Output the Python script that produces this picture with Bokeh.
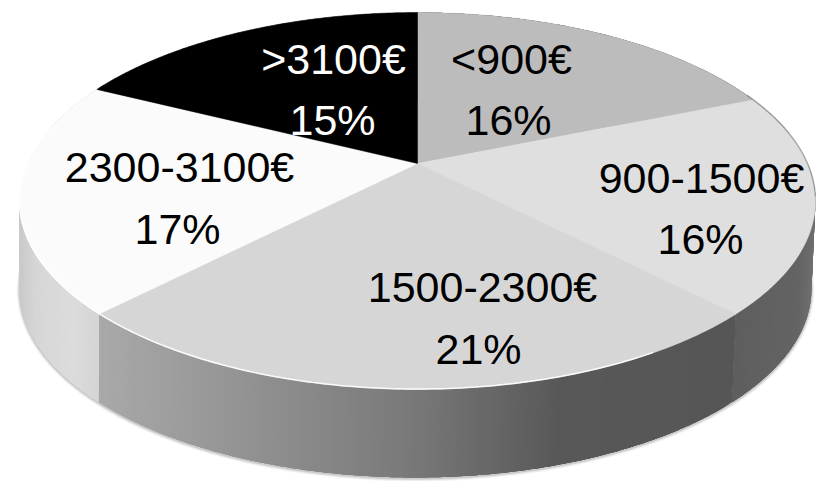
import numpy as np
from bokeh.plotting import figure
from bokeh.models import Range1d
from bokeh.core.properties import value
from bokeh.embed import file_html
from bokeh.resources import INLINE

# data
categories = ["<900€", "900-1500€", "1500-2300€", "2300-3100€", ">3100€"]
percents = [16, 16, 21, 17, 15]

# style
top_colors = ["#bcbcbc", "#dfdfdf", "#d6d6d6", "#fbfbfb", "#000000"]
text_colors = ["#000000", "#000000", "#000000", "#000000", "#ffffff"]
side_stops = [
    ([400, 820], [0x70, 0x70]),
    ([690, 800, 815], [0x5a, 0x64, 0x70]),
    ([98, 410, 560, 735], [0xa9, 0x79, 0x58, 0x56]),
    ([15, 35, 70, 105], [0xc6, 0xd6, 0xdc, 0xd3]),
    ([0, 100], [0xc6, 0xc6]),
]
label_xy = [(511, 58, 508, 119), (701, 177, 700, 238), (482, 286, 478, 348),
            (179, 166, 177, 228), (333, 58, 332, 119)]

W, H = 819, 481
HUB_TOP = (417.0, 163.0)
HUB_BOT = (415.0, 251.0)
A, B, K = 181.0, 390.0, 0.199
B2 = 388.0


def project(theta, hub, b):
    d = 1 + K * np.cos(theta)
    return hub[0] + b * np.sin(theta) / d, hub[1] - A * np.cos(theta) / d


fractions = np.cumsum([0] + percents) / sum(percents)
angles = 2 * np.pi * fractions

p = figure(width=W, height=H, output_backend="svg", toolbar_location=None,
           x_range=Range1d(0, W), y_range=Range1d(H, 0),
           min_border=0, outline_line_color=None, tools="")
p.axis.visible = False
p.grid.visible = False

# soft shadow round the lower edge
t = np.linspace(np.radians(62), np.radians(298), 300)
bx, by = project(t, HUB_BOT, B2)
for w, a in [(6, 0.06), (4, 0.10), (2, 0.18)]:
    p.line(bx, by + 1, line_color="#555555", line_width=w, line_alpha=a)

# side wall: overlapping strips, each painted over the previous one's tail
step = np.radians(0.5)
for i in range(len(percents)):
    n = max(2, int((angles[i + 1] - angles[i]) / step))
    ts = np.linspace(angles[i], angles[i + 1], n + 1)
    xs, ys, cols = [], [], []
    for j in range(n):
        a0 = ts[j]
        a1 = ts[min(j + 4, n)]
        mid = 0.5 * (ts[j] + ts[j + 1])
        if np.sin(mid) > 0.98 and np.cos(mid) > 0:
            continue
        tt = np.linspace(a0, a1, 5)
        xt, yt = project(tt, HUB_TOP, B)
        xb, yb = project(tt[::-1], HUB_BOT, B2)
        xs.append(np.r_[xt, xb].tolist())
        ys.append(np.r_[yt, yb].tolist())
        g = int(round(np.interp(project(mid, HUB_TOP, B)[0], *side_stops[i])))
        cols.append("#%02x%02x%02x" % (g, g, g))
    # the strip order must run in the direction that leaves the tail covered
    for x_, y_, c_ in zip(xs, ys, cols):
        p.patch(x_, y_, fill_color=c_, line_color=None)

# top face
for i in range(len(percents)):
    n = 120
    ts = np.linspace(angles[i], angles[i + 1], n)
    ex, ey = project(ts, HUB_TOP, B)
    p.patch(np.r_[HUB_TOP[0], ex], np.r_[HUB_TOP[1], ey],
            fill_color=top_colors[i], line_color=top_colors[i], line_width=0.5)

# rim highlight and right-hand dark bevel
t = np.linspace(np.radians(150), np.radians(282), 200)
rx, ry = project(t, HUB_TOP, B)
p.line(rx, ry - 0.5, line_color="#ffffff", line_width=1.5, line_alpha=0.9)
t = np.linspace(np.radians(66), np.radians(100), 80)
rx, ry = project(t, HUB_TOP, B)
p.line(rx, ry, line_color="#777777", line_width=1.5, line_alpha=0.55)

# labels
for i, cat in enumerate(categories):
    x1, y1, x2, y2 = label_xy[i]
    p.text([x1, x2], [y1, y2], text=[cat, f"{percents[i]}%"],
           text_font=value("Liberation Sans"), text_font_size="43px",
           text_color=text_colors[i], text_align="center",
           text_baseline="alphabetic")

open("out.html", "w").write(file_html(p, INLINE))
